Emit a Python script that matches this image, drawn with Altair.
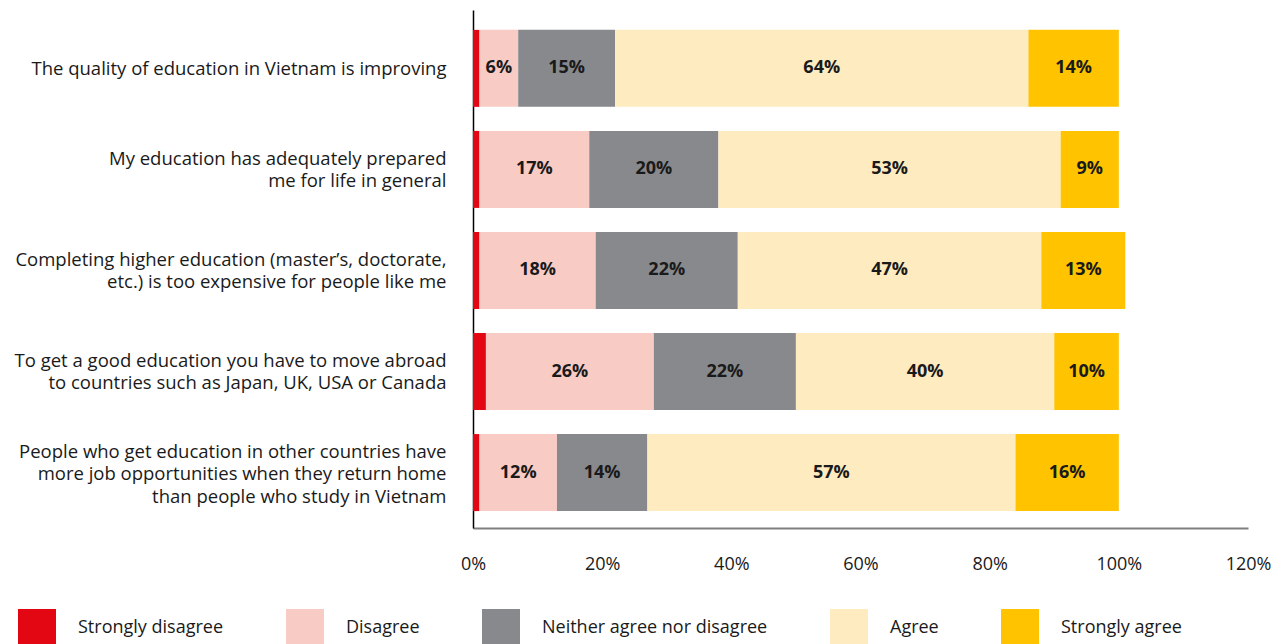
import altair as alt
import pandas as pd

statements = [
    "The quality of education in Vietnam is improving",
    "My education has adequately prepared|me for life in general",
    "Completing higher education (master’s, doctorate,|etc.) is too expensive for people like me",
    "To get a good education you have to move abroad|to countries such as Japan, UK, USA or Canada",
    "People who get education in other countries have|more job opportunities when they return home|than people who study in Vietnam",
]
responses = ["Strongly disagree", "Disagree", "Neither agree nor disagree", "Agree", "Strongly agree"]
strongly_disagree = [1, 1, 1, 2, 1]
disagree = [6, 17, 18, 26, 12]
neither = [15, 20, 22, 22, 14]
agree = [64, 53, 47, 40, 57]
strongly_agree = [14, 9, 13, 10, 16]
colors = ["#E30613", "#F8CBC5", "#88898D", "#FFEBC0", "#FFC300"]
x_ticks = [0, 20, 40, 60, 80, 100, 120]

series = [strongly_disagree, disagree, neither, agree, strongly_agree]
rows = []
for i, s in enumerate(statements):
    for j, (r, vals) in enumerate(zip(responses, series)):
        rows.append({"statement": s, "response": r, "order": j, "value": vals[i],
                     "label": f"{vals[i]}%"})
df = pd.DataFrame(rows)

FONT = "Open Sans"
LINE_H = 22.5

base = alt.Chart(df).transform_stack(
    stack="value", groupby=["statement"], as_=["x0", "x1"],
    sort=[alt.SortField("order", order="ascending")]
).transform_calculate(mid="(datum.x0 + datum.x1) / 2")

nlines = "length(split(datum.value, '|'))"
yenc = alt.Y(
    "statement:N", sort=statements,
    scale=alt.Scale(paddingInner=0.238, paddingOuter=0.182, align=0.54),
    axis=alt.Axis(
        title=None, ticks=False, labelExpr="split(datum.label, '|')",
        labelAlign="right", labelBaseline="middle", labelPadding=27,
        labelFontSize=18.5, labelLineHeight=LINE_H, labelLimit=470,
        labelColor="#1a1a1a", labelFont=FONT,
        labelOffset={"condition": [
            {"test": nlines + " == 3", "value": -LINE_H + 1.5},
            {"test": nlines + " == 2", "value": -LINE_H / 2 + 0.5},
        ], "value": 0.5},
        domainColor="#000000", domainWidth=1.5,
    ),
)

bars = base.mark_bar().encode(
    y=yenc,
    x=alt.X("x0:Q", scale=alt.Scale(domain=[0, 120], nice=False),
            axis=alt.Axis(title=None, values=x_ticks, labelExpr="datum.value + '%'",
                          ticks=False, grid=False, domainColor="#808080", domainWidth=2,
                          labelFlush=False, labelPadding=27, labelFontSize=18,
                          labelColor="#1a1a1a", labelFont=FONT)),
    x2="x1:Q",
    color=alt.Color("response:N", sort=responses,
                    scale=alt.Scale(domain=responses, range=colors),
                    legend=alt.Legend(
                        title=None, orient="none", direction="horizontal",
                        legendX=-455, legendY=599, symbolType="square",
                        symbolSize=1444, symbolStrokeWidth=0, symbolOpacity=1,
                        labelOffset=22, columnPadding=62, labelFontSize=18,
                        labelLimit=400, labelColor="#1a1a1a", labelFont=FONT,
                        padding=0, columns=5)),
)

text = base.transform_filter("datum.order > 0").mark_text(
    fontWeight="bold", fontSize=18, color="#1a1a1a", font=FONT
).encode(
    y=alt.Y("statement:N", sort=statements),
    x=alt.X("mid:Q"),
    text="label:N",
)

chart = alt.layer(bars, text).properties(
    width=775, height=518,
    autosize=alt.AutoSizeParams(type="none"),
    padding={"left": 465, "top": 2, "right": 27, "bottom": 120},
).configure_view(stroke=None)

chart.save("out.html", embed_options={"renderer": "svg", "actions": False})
